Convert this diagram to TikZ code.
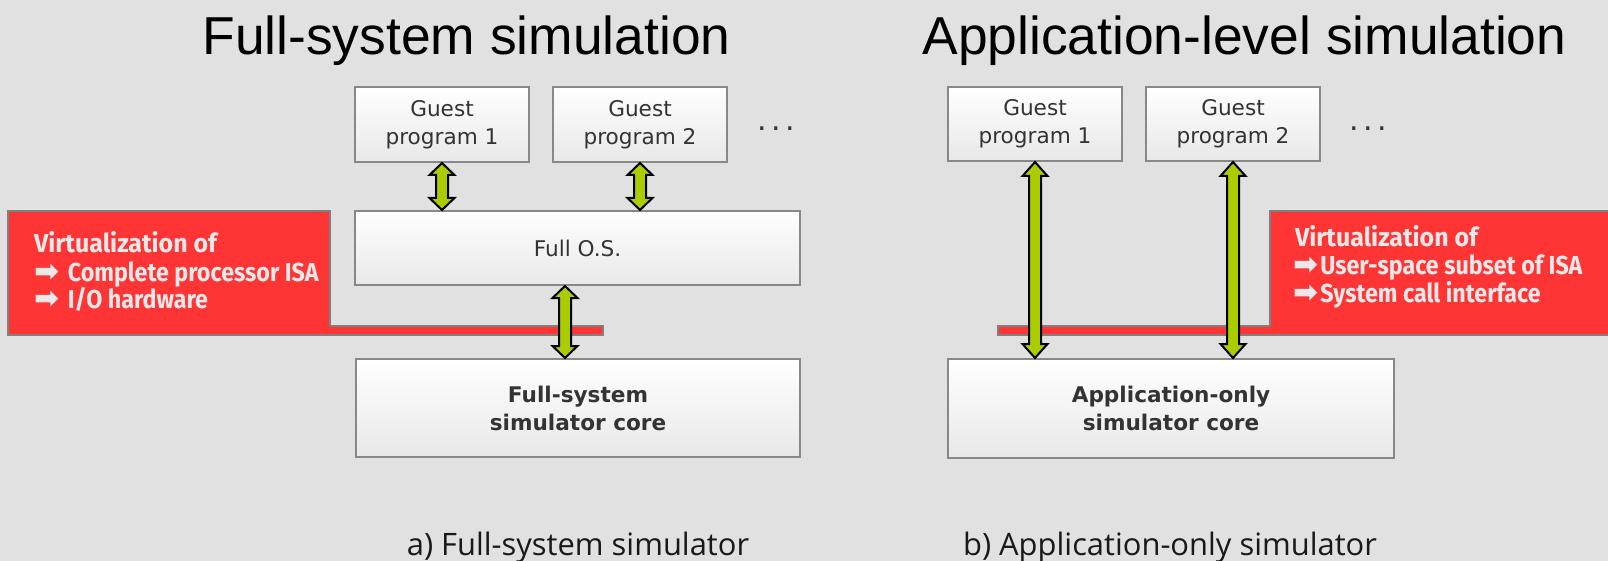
\documentclass[tikz,border=0pt]{standalone}
\usepackage{fontspec}
\setmainfont{DejaVu Sans}
\newfontfamily\titlefont{Liberation Sans}
\newfontfamily\capfont{Open Sans}
\newfontfamily\virtfont[FakeStretch=0.96]{Fira Sans}
\newfontfamily\itemfont[FakeStretch=0.895]{Fira Sans}
\newfontfamily\symfont{DejaVu Sans}
\usetikzlibrary{calc}
\definecolor{bg}{RGB}{225,225,225}
\definecolor{vred}{RGB}{255,53,53}
\definecolor{edgegray}{RGB}{128,128,128}
\definecolor{boxedge}{RGB}{136,136,136}
\definecolor{limefill}{RGB}{170,204,0}
\definecolor{boxtext}{RGB}{51,51,51}
\definecolor{virttext}{RGB}{240,232,232}
\definecolor{boxbottom}{RGB}{232,232,232}

% double-headed vertical arrow between a top point and a bottom point
\newcommand\dblarrow[3]{%
  \draw[arrowbody] (#1) -- ++(12.5,#3) -- ++(-6.5,0) -- ($(#2)+(6,-#3)$) -- ++(6.5,0)
    -- (#2) -- ++(-12.5,-#3) -- ++(6.5,0) -- ($(#1)+(-6,#3)$) -- ++(-6.5,0) -- cycle;}
% bullet arrow in front of a list item
\newcommand\itemarrow{{\symfont\fontsize{30}{30}\selectfont ➡}}

\tikzset{
  box/.style={draw=boxedge, line width=2, top color=white, bottom color=boxbottom,
    inner sep=0, align=center, font=\fontsize{21.6}{28}\selectfont, text=boxtext},
  boldbox/.style={box, font=\fontsize{21.6}{28}\selectfont\bfseries},
  arrowbody/.style={draw=black, line width=2, fill=limefill, line join=miter},
  redzone/.style={fill=vred, draw=edgegray, line width=2, line join=miter},
  virt/.style={anchor=base west, inner sep=0, text=virttext,
    font=\virtfont\bfseries\fontsize{26}{28}\selectfont},
  virtitem/.style={virt, font=\itemfont\bfseries\fontsize{26}{28}\selectfont},
  title/.style={anchor=base, inner sep=0, font=\titlefont\fontsize{53.4}{60}\selectfont},
  capt/.style={anchor=base, inner sep=0, text=black!90, font=\capfont\fontsize{30.9}{34}\selectfont},
  dots/.style={inner sep=0, text=boxtext, font=\fontsize{30}{30}\selectfont},
}

\begin{document}
\begin{tikzpicture}[x=1pt,y=-1pt]
\useasboundingbox (0,0) rectangle (1608,561);
\fill[bg] (0,0) rectangle (1608,561);
\clip (0,0) rectangle (1608,561);

% titles
\node[title] (tl) at (466.5,55) {Full-system simulation};
\node[title] (tr) at (1244.5,55) {Application-level simulation};

% virtualization layers
\draw[redzone] (8,211) -- (330,211) -- (330,326) -- (603,326) -- (603,335) -- (8,335) -- cycle;
\draw[redzone] (998,326) -- (1270,326) -- (1270,211) -- (1620,211) -- (1620,335) -- (998,335) -- cycle;

\node[virt] (vl1) at (34,253) {Virtualization of};
\node[virtitem] (vl2) at (34,281) {\itemarrow\hspace{8.5pt}Complete processor ISA};
\node[virtitem] (vl3) at (34,308) {\itemarrow\hspace{8.5pt}I/O hardware};

\node[virt] (vr1) at (1295,247) {Virtualization of};
\node[virtitem] (vr2) at (1293,275) {\itemarrow\hspace{2pt}User-space subset of ISA};
\node[virtitem] (vr3) at (1293,302) {\itemarrow\hspace{2pt}System call interface};

% full-system stack
\node[box, minimum width=174, minimum height=75] (g1) at (442,124.5) {Guest\\program 1};
\node[box, minimum width=174, minimum height=75] (g2) at (640,124.5) {Guest\\program 2};
\node[dots, anchor=base] (d1) at (776,131) {.\hspace{4.5pt}.\hspace{4.5pt}.};
\node[box, minimum width=445, minimum height=74] (os) at (577.5,248) {Full O.S.};
\node[boldbox, minimum width=444, minimum height=98] (core) at (578,408) {Full-system\\simulator core};

% application-only stack
\node[box, minimum width=174, minimum height=74] (h1) at (1035,124) {Guest\\program 1};
\node[box, minimum width=174, minimum height=74] (h2) at (1233,124) {Guest\\program 2};
\node[dots, anchor=base] (d2) at (1368,131) {.\hspace{4.5pt}.\hspace{4.5pt}.};
\node[boldbox, minimum width=446, minimum height=99] (acore) at (1171,408.5) {Application-only\\simulator core};

% connector end points
\coordinate (a1t) at (g1.south);
\coordinate (a1b) at (g1.south |- os.north);
\coordinate (a2t) at (g2.south);
\coordinate (a2b) at (g2.south |- os.north);
\coordinate (a3t) at ($(os.south)+(-12.5,0)$);
\coordinate (a3b) at (a3t |- core.north);
\coordinate (b1t) at (h1.south);
\coordinate (b1b) at (h1.south |- acore.north);
\coordinate (b2t) at (h2.south);
\coordinate (b2b) at (h2.south |- acore.north);

\dblarrow{a1t}{a1b}{12}
\dblarrow{a2t}{a2b}{12}
\dblarrow{a3t}{a3b}{12}
\dblarrow{b1t}{b1b}{14}
\dblarrow{b2t}{b2b}{14}

% captions
\node[capt] (ca) at (578,555) {a) Full-system simulator};
\node[capt] (cb) at (1170,555) {b) Application-only simulator};
\end{tikzpicture}
\end{document}
